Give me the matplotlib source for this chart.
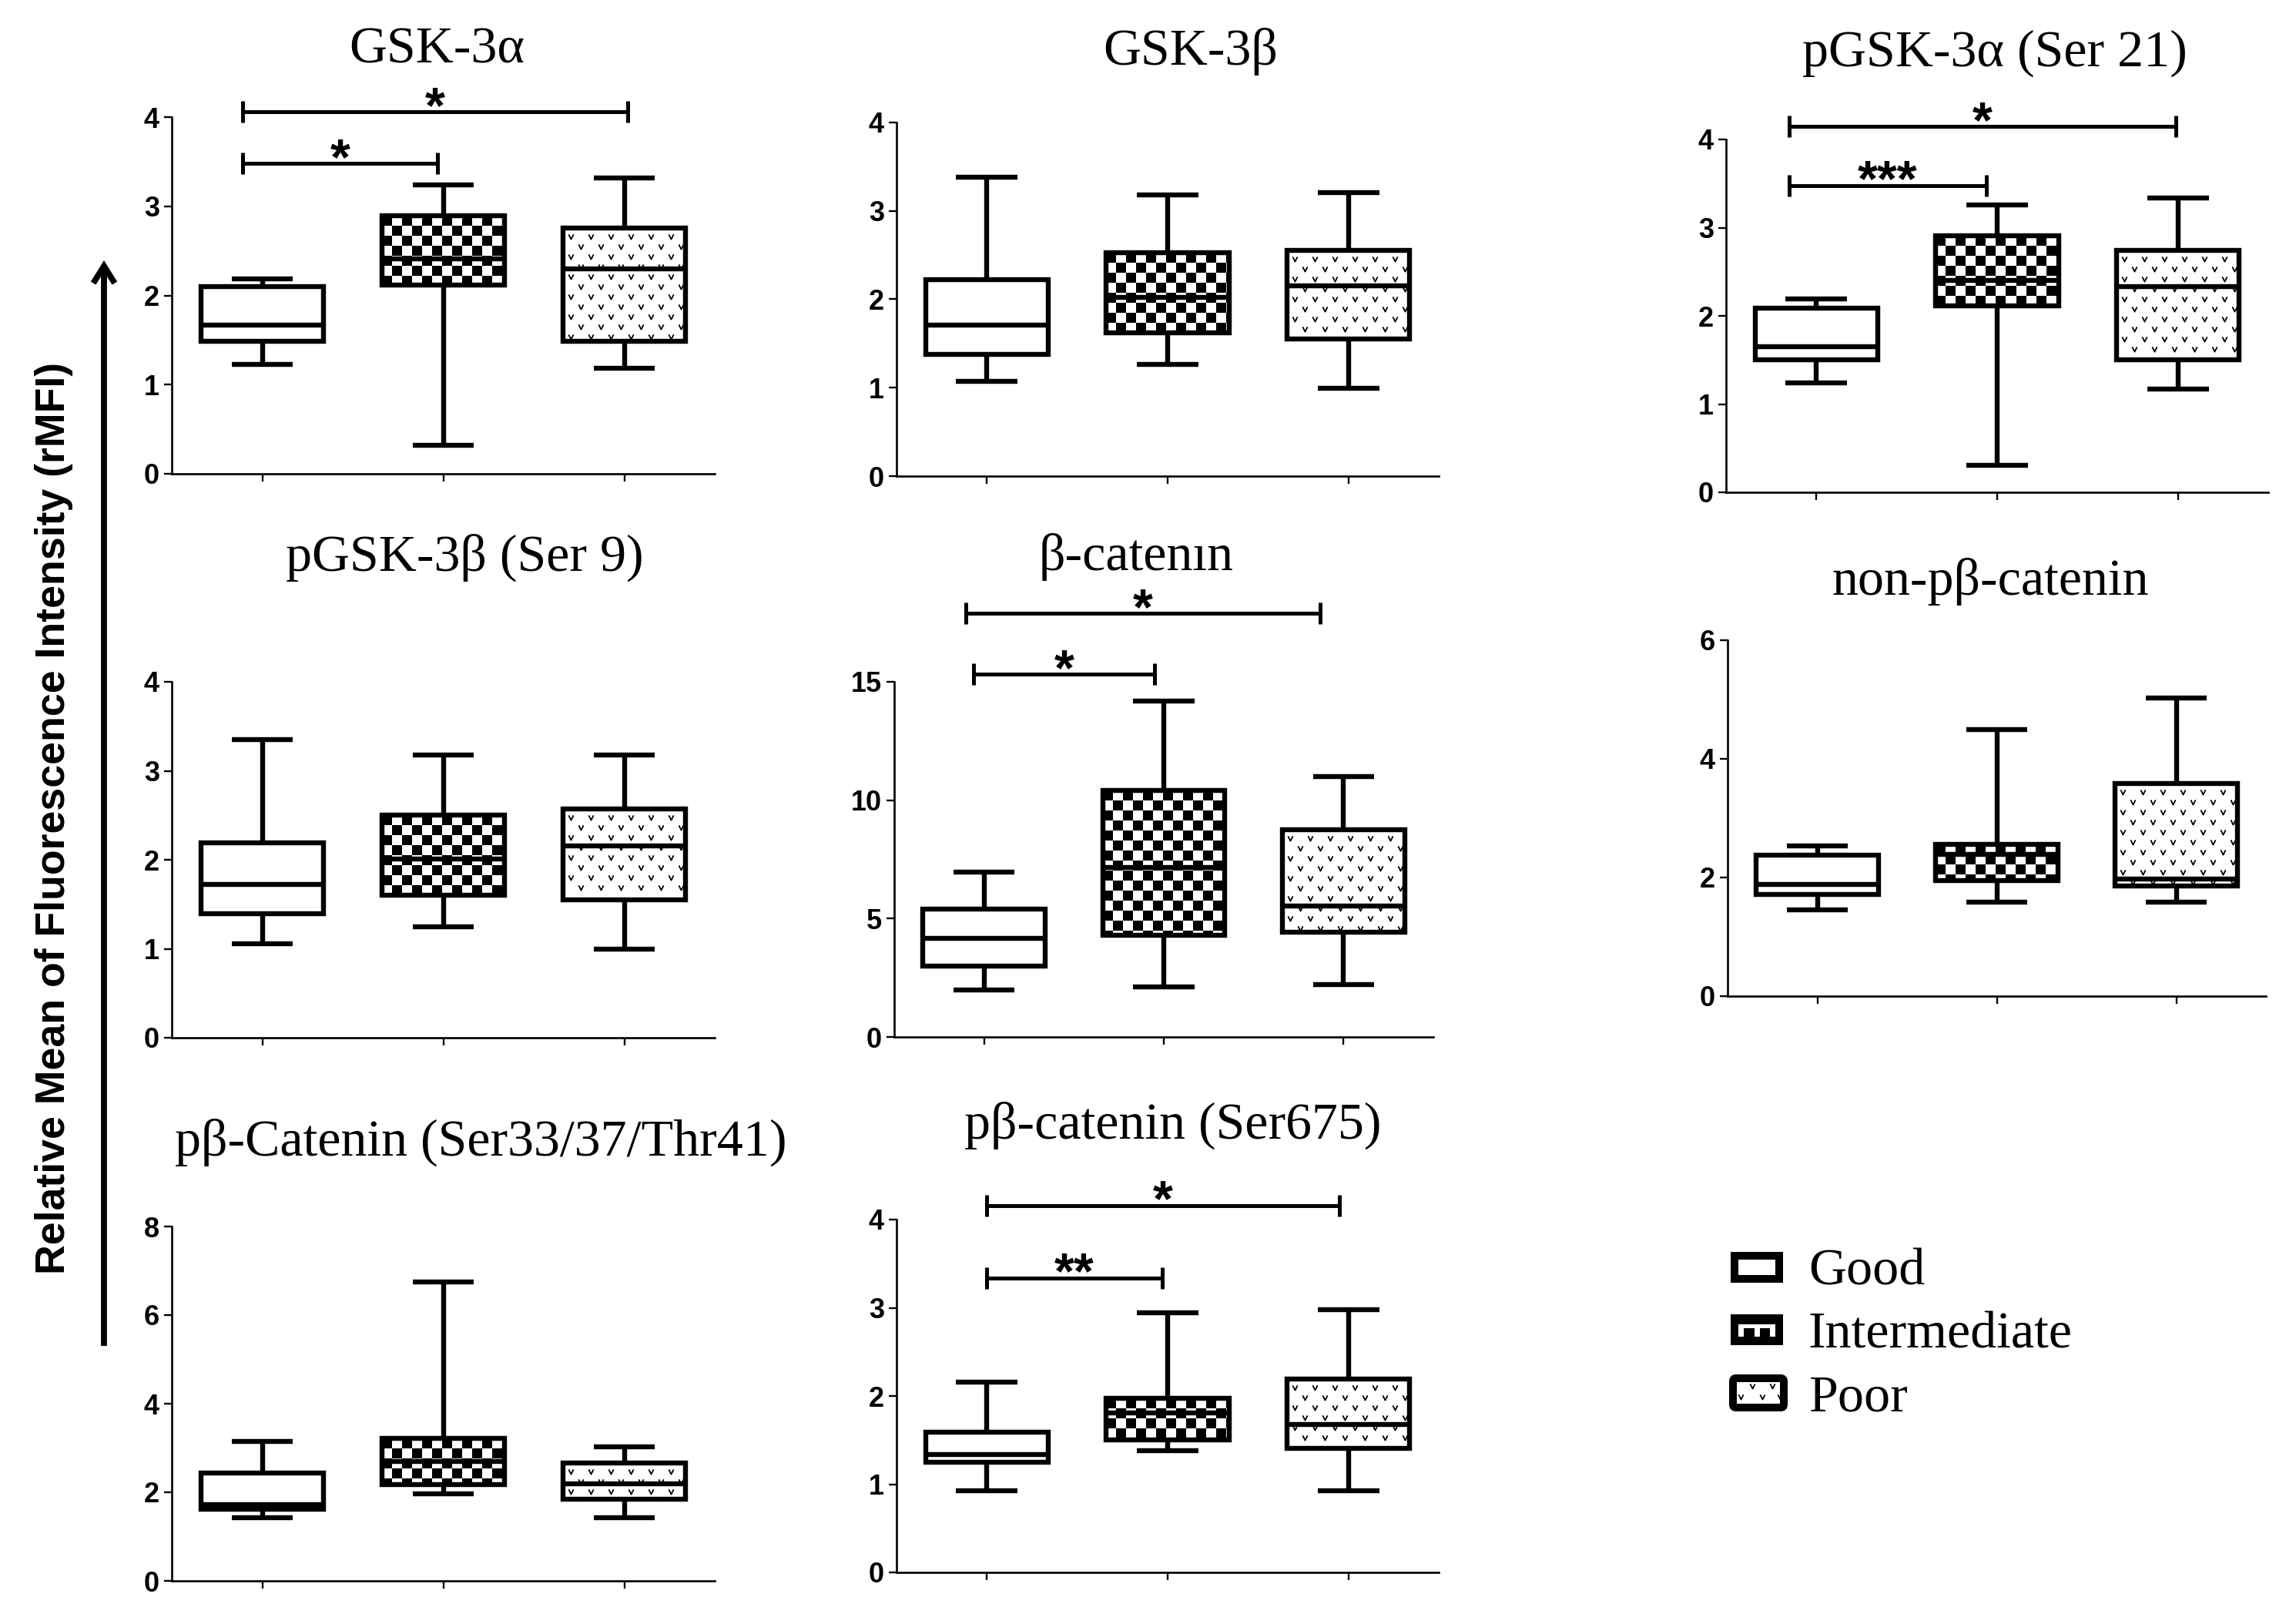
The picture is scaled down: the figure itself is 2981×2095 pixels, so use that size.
import numpy as np
import matplotlib
matplotlib.use("Agg")
import matplotlib.pyplot as plt
from matplotlib.path import Path
from matplotlib.patches import Rectangle, FancyArrowPatch, FancyBboxPatch

W, H = 2981, 2095  # output size in pixels (dpi 100)

titles = ["GSK-3α", "GSK-3β", "pGSK-3α (Ser 21)", "pGSK-3β (Ser 9)", "β-catenın",
          "non-pβ-catenin", "pβ-Catenin (Ser33/37/Thr41)", "pβ-catenin (Ser675)"]
groups = ["Good", "Intermediate", "Poor"]
y_label = "Relative Mean of Fluorescence Intensity (rMFI)"

# per group: whisker low, Q1, median, Q3, whisker high  (Good, Intermediate, Poor)
gsk3a = [[1.23, 1.49, 1.67, 2.10, 2.19], [0.32, 2.12, 2.41, 2.89, 3.24], [1.18, 1.49, 2.30, 2.76, 3.32]]
gsk3b = [[1.07, 1.38, 1.71, 2.22, 3.38], [1.26, 1.62, 2.02, 2.53, 3.18], [0.99, 1.55, 2.15, 2.55, 3.21]]
pgsk3a = [[1.24, 1.50, 1.65, 2.09, 2.19], [0.31, 2.11, 2.40, 2.91, 3.26], [1.17, 1.50, 2.33, 2.74, 3.34]]
pgsk3b = [[1.06, 1.39, 1.72, 2.19, 3.35], [1.25, 1.60, 2.01, 2.50, 3.18], [1.00, 1.55, 2.16, 2.57, 3.18]]
bcat = [[2.0, 3.0, 4.16, 5.4, 6.97], [2.1, 4.3, 7.15, 10.4, 14.2], [2.2, 4.43, 5.53, 8.74, 11.0]]
non_pbcat = [[1.46, 1.71, 1.88, 2.38, 2.53], [1.59, 1.95, 2.39, 2.56, 4.49], [1.59, 1.86, 1.97, 3.58, 5.02]]
pbcat_33 = [[1.43, 1.62, 1.72, 2.44, 3.14], [1.97, 2.17, 2.70, 3.22, 6.74], [1.43, 1.85, 2.19, 2.66, 3.03]]
pbcat_675 = [[0.93, 1.25, 1.34, 1.59, 2.16], [1.38, 1.50, 1.81, 1.97, 2.94], [0.93, 1.41, 1.68, 2.19, 2.98]]
summaries = [gsk3a, gsk3b, pgsk3a, pgsk3b, bcat, non_pbcat, pbcat_33, pbcat_675]

y_max = [4, 4, 4, 4, 15, 6, 8, 4]
y_step = [1, 1, 1, 1, 5, 2, 2, 1]

# significance brackets: x start, x end, height, label
sig_gsk3a = [(0.89, 1.97, 3.48, "*"), (0.89, 3.02, 4.06, "*")]
sig_pgsk3a = [(0.85, 1.94, 3.48, "***"), (0.85, 2.99, 4.15, "*")]
sig_bcat = [(0.94, 1.95, 15.33, "*"), (0.90, 2.87, 17.9, "*")]
sig_pbcat_675 = [(1.00, 1.97, 3.34, "**"), (1.00, 2.95, 4.16, "*")]
sigs = [sig_gsk3a, [], sig_pgsk3a, [], sig_bcat, [], [], sig_pbcat_675]

# layout in pixels: y-axis x, x-axis end, y pixel of 0, y pixel of top
axes_px = [(223, 928, 615, 152), (1164, 1868, 618, 159), (2241, 2945, 639, 181),
           (223, 928, 1347, 885), (1161, 1861, 1346, 885), (2243, 2942, 1293, 831),
           (223, 928, 2052, 1592), (1164, 1868, 2041, 1583)]
title_px = [(567, 82), (1546, 84), (2590, 86), (603, 741), (1475, 740),
            (2584, 772), (624, 1500), (1523, 1478)]

SANS = ["Liberation Sans", "DejaVu Sans"]
SERIF = ["Liberation Serif", "DejaVu Serif"]
TICK_SIZE = 26
YLAB_SIZE = 38.6

LW = 4.6
VMARK = Path([(-1, 1), (0, -1), (1, 1)], [Path.MOVETO, Path.LINETO, Path.LINETO])


def box_px(ax, box):
    v = box.get_path().vertices
    lo = (v[:, 0].min(), v[:, 1].min())
    hi = (v[:, 0].max(), v[:, 1].max())
    (x0, y0), (x1, y1) = ax.transData.transform([lo, hi])
    return x0, y0, x1, y1


def add_checker(ax, box, cell=13):
    x0, y0, x1, y1 = box_px(ax, box)
    nx = int(np.ceil((x1 - x0) / cell))
    ny = int(np.ceil((y1 - y0) / cell))
    board = np.indices((ny, nx)).sum(axis=0) % 2
    (dl, db), (dr, dt) = ax.transData.inverted().transform(
        [(x0, y1 - ny * cell), (x0 + nx * cell, y1)])
    im = ax.imshow(board, cmap="gray", vmin=0, vmax=1, extent=(dl, dr, db, dt),
                   origin="upper", aspect="auto", interpolation="nearest", zorder=2.02)
    im.set_clip_path(box)


def add_vees(ax, box, step=13):
    x0, y0, x1, y1 = box_px(ax, box)
    pts = []
    for i, yy in enumerate(np.arange(y1 - 11, y0 + 4, -step)):
        off = (i % 2) * step
        for xx in np.arange(x0 + 10 + off, x1 - 4, 2 * step):
            pts.append((xx, yy))
    if not pts:
        return
    d = ax.transData.inverted().transform(pts)
    ln, = ax.plot(d[:, 0], d[:, 1], ls="none", marker=VMARK, ms=4.5, mew=1.3,
                  mec="black", mfc="none", zorder=2.02)
    ln.set_clip_path(box)


fig = plt.figure(figsize=(W / 100, H / 100), dpi=100)

for k in range(8):
    xl, xr, yb, yt = axes_px[k]
    ax = fig.add_axes([xl / W, 1 - yb / H, (xr - xl) / W, (yb - yt) / H])
    stats = [dict(whislo=s[0], q1=s[1], med=s[2], q3=s[3], whishi=s[4], fliers=[])
             for s in summaries[k]]
    bp = ax.bxp(stats, positions=[1, 2, 3], widths=0.68, patch_artist=True, showfliers=False,
                boxprops=dict(facecolor="none", edgecolor="black", linewidth=LW),
                whiskerprops=dict(color="black", linewidth=LW, solid_capstyle="butt"),
                capprops=dict(color="black", linewidth=LW, solid_capstyle="butt"),
                medianprops=dict(color="black", linewidth=LW, solid_capstyle="butt"))
    ax.set_xlim(0.5, 3.5)
    ax.set_ylim(0, y_max[k])
    for b in bp["boxes"]:
        b.set_zorder(2.08)
    add_checker(ax, bp["boxes"][1])
    add_vees(ax, bp["boxes"][2])
    ax.set_xlim(0.5, 3.5)
    ax.set_ylim(0, y_max[k])

    ticks = np.arange(0, y_max[k] + 0.1, y_step[k])
    ax.set_yticks(ticks)
    ax.set_yticklabels([f"{t:g}" for t in ticks])
    ax.set_xticks([1, 2, 3])
    ax.set_xticklabels([])
    ax.tick_params(axis="both", direction="out", length=7.2, width=1.7, pad=4.3,
                   labelsize=TICK_SIZE, labelfontfamily="Liberation Sans")
    for lab in ax.get_yticklabels():
        lab.set_fontweight("bold")
        lab.set_fontsize(TICK_SIZE)
    for s in ["top", "right"]:
        ax.spines[s].set_visible(False)
    for s in ["left", "bottom"]:
        ax.spines[s].set_linewidth(1.9)

    for x1, x2, yv, lab in sigs[k]:
        ax.plot([x1, x2], [yv, yv], color="black", lw=3.6, marker="|", ms=19.5,
                mew=3.6, clip_on=False, solid_capstyle="butt")
        ax.annotate(lab, ((x1 + x2) / 2, yv), xytext=(0, -10), textcoords="offset points",
                    ha="center", va="baseline", fontsize=48, fontweight="bold",
                    family=SANS, annotation_clip=False)

    tx, ty = title_px[k]
    fig.text(tx / W, 1 - ty / H, titles[k], ha="center", va="baseline",
             fontsize=49, family=SERIF)

# overlay in pixel coordinates for the shared label, arrow and legend
ov = fig.add_axes([0, 0, 1, 1])
ov.set_xlim(0, W)
ov.set_ylim(H, 0)
ov.axis("off")

fig.text(70 / W, 1 - 1062 / H, y_label, rotation=90, ha="center", va="center",
         fontsize=YLAB_SIZE, fontweight="bold", family=SANS)
ov.add_patch(FancyArrowPatch((135, 1747), (135, 338), arrowstyle="->,head_length=16,head_width=10",
                             mutation_scale=1, lw=5.6, color="black", shrinkA=0, shrinkB=0,
                             joinstyle="miter", capstyle="butt"))

rows = [1645, 1726, 1808]
# Good
ov.add_patch(Rectangle((2252, rows[0] - 15), 58, 30, facecolor="white", edgecolor="black", lw=7.2))
# Intermediate
ov.add_patch(Rectangle((2247, rows[1] - 20), 68, 40, facecolor="black", edgecolor="none"))
ov.add_patch(Rectangle((2257, rows[1] - 7), 48, 5, facecolor="white", edgecolor="none"))
for lx in [2257, 2278, 2298]:
    ov.add_patch(Rectangle((lx, rows[1] - 7), 7, 16, facecolor="white", edgecolor="none"))
# Poor
ov.add_patch(FancyBboxPatch((2250, rows[2] - 19), 66, 38, boxstyle="round,pad=0,rounding_size=4",
                            facecolor="white", edgecolor="black", lw=7.2))
vx = [2275, 2301, 2260, 2288, 2311]
vy = [rows[2] - 9, rows[2] - 9, rows[2] + 5, rows[2] + 5, rows[2] + 5]
ov.plot(vx, vy, ls="none", marker=VMARK, ms=4.5, mew=1.3, mec="black", mfc="none")
for r, g in zip(rows, groups):
    ov.text(2348, r + 23, g, ha="left", va="baseline", fontsize=49, family=SERIF)

fig.savefig("out.png", dpi=100)
